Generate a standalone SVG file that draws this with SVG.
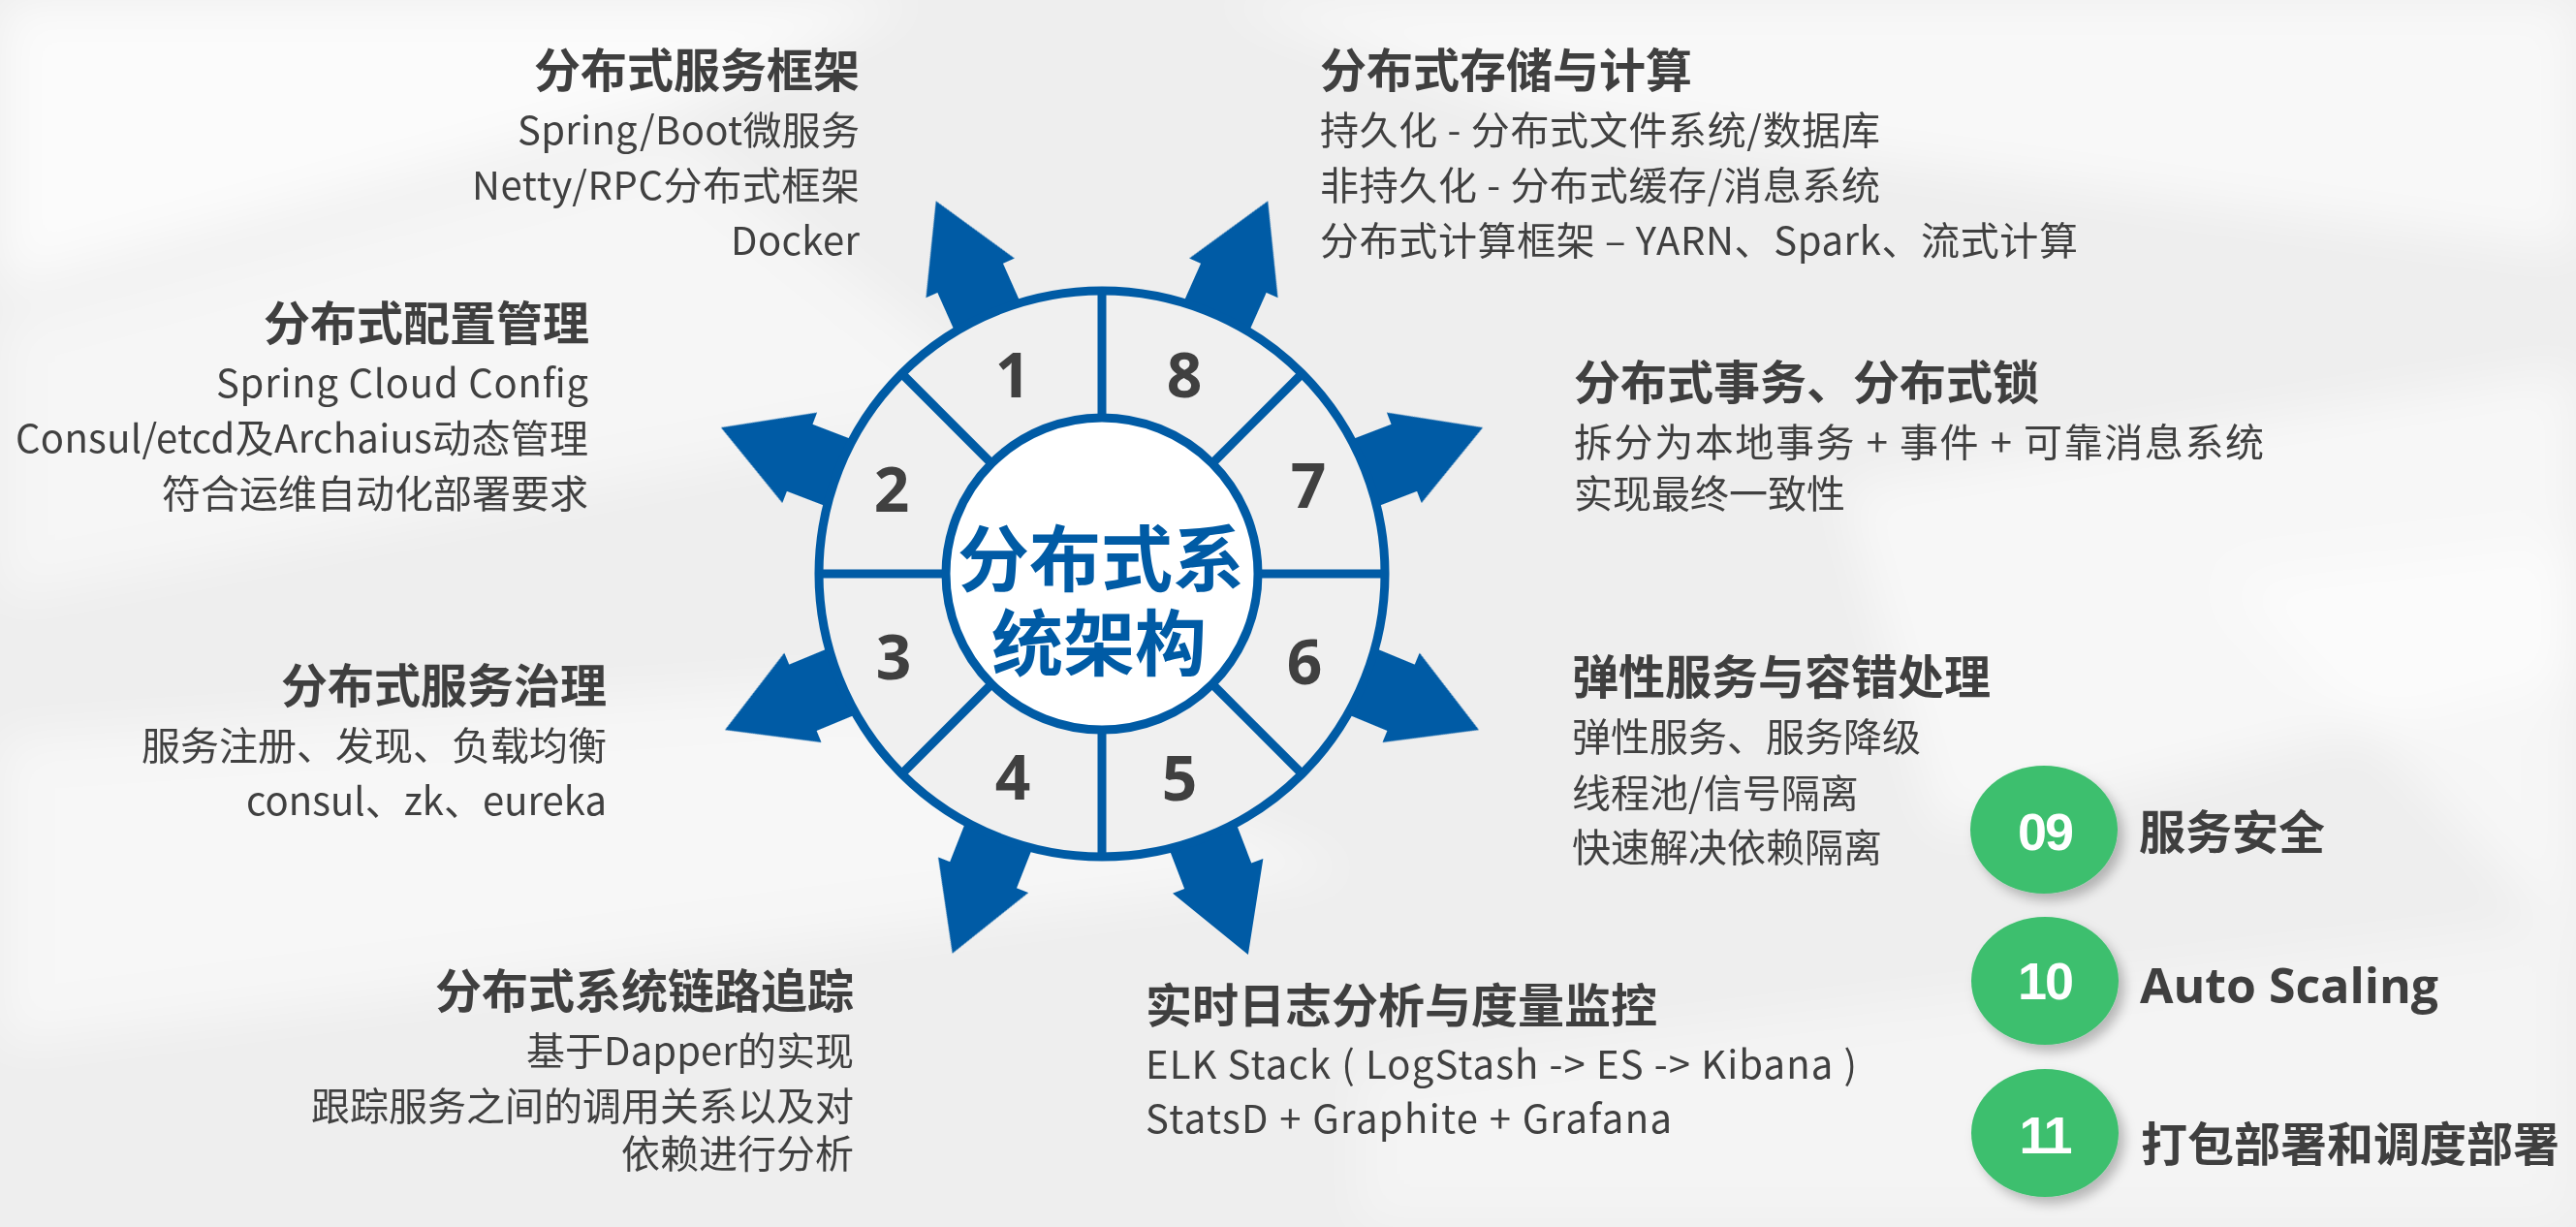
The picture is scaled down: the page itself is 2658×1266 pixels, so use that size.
<svg xmlns="http://www.w3.org/2000/svg" width="2658" height="1266" viewBox="0 0 2658 1266">
<style>
.h{font-family:"Noto Sans CJK SC","Noto Sans",sans-serif;font-size:48px;font-weight:700;fill:#3f3f3f;dominant-baseline:central}
.b{font-family:"Noto Sans CJK SC","Noto Sans",sans-serif;font-size:40px;font-weight:400;fill:#404040;dominant-baseline:central}
.r{text-anchor:end}
.num{font-family:"Open Sans","Liberation Sans",sans-serif;font-size:64px;font-weight:700;fill:#404040;text-anchor:middle}
.ctr{font-family:"Noto Sans CJK SC",sans-serif;font-size:74px;font-weight:700;fill:#005ba5;text-anchor:middle;dominant-baseline:central}
.gn{font-family:"Liberation Sans","Arial",sans-serif;font-size:54px;font-weight:700;fill:#ffffff;text-anchor:middle;letter-spacing:-2px}
.blue{fill:#005ba5}
.div{stroke:#005ba5;stroke-width:9}
.green{fill:#3dbf6e}
</style>
<defs>
<filter id="soft" x="-20%" y="-20%" width="140%" height="140%"><feGaussianBlur stdDeviation="25"/></filter>
<filter id="shadow" x="-30%" y="-30%" width="160%" height="160%"><feDropShadow dx="6" dy="7" stdDeviation="6" flood-color="#000" flood-opacity="0.25"/></filter>
<polygon id="arrow" points="-37,-250 -37,-334 -50,-334 0,-421 50,-334 37,-334 37,-250"/>
</defs>

<g id="background">
<rect width="2658" height="1266" fill="#eeeeee"/>
<g filter="url(#soft)" fill="#ffffff">
<polygon points="0,0 950,0 700,110 0,300" opacity="0.75"/>
<polygon points="0,330 700,140 1050,420 0,620" opacity="0.45"/>
<polygon points="1250,0 2658,0 2658,260 1600,120" opacity="0.6"/>
<polygon points="1900,500 2658,380 2658,700 2000,860" opacity="0.55"/>
<polygon points="0,760 900,700 1400,900 0,1080" opacity="0.5"/>
<polygon points="1400,1100 2658,950 2658,1266 1400,1266" opacity="0.35"/>
<polygon points="2300,600 2658,560 2658,980" opacity="0.5"/>
</g>
</g>

<g id="connectors">
<use href="#arrow" class="blue" transform="translate(1137,592) rotate(-24)"/>
<use href="#arrow" class="blue" transform="translate(1137,592) rotate(24)"/>
<use href="#arrow" class="blue" transform="translate(1137,592) rotate(-69)"/>
<use href="#arrow" class="blue" transform="translate(1137,592) rotate(69)"/>
<use href="#arrow" class="blue" transform="translate(1137,592) rotate(-112.5)"/>
<use href="#arrow" class="blue" transform="translate(1137,592) rotate(112.5)"/>
<use href="#arrow" class="blue" transform="translate(1137,592) rotate(-158.5)"/>
<use href="#arrow" class="blue" transform="translate(1137,592) rotate(159)"/>
</g>

<g id="wheel">
<circle cx="1137" cy="592" r="292" fill="#f0f0f0" stroke="#005ba5" stroke-width="9"/>
<g class="div">
<line x1="1137" y1="431" x2="1137" y2="300"/>
<line x1="1137" y1="753" x2="1137" y2="884"/>
<line x1="976" y1="592" x2="845" y2="592"/>
<line x1="1298" y1="592" x2="1431" y2="592"/>
<line x1="1023.2" y1="478.2" x2="930.5" y2="385.5"/>
<line x1="1250.8" y1="478.2" x2="1343.5" y2="385.5"/>
<line x1="1023.2" y1="705.8" x2="930.5" y2="798.5"/>
<line x1="1250.8" y1="705.8" x2="1343.5" y2="798.5"/>
</g>
<circle cx="1137" cy="592" r="161" fill="#ffffff" stroke="#005ba5" stroke-width="9"/>
<text class="ctr" x="1136" y="571">分布式系</text>
<text class="ctr" x="1134" y="658">统架构</text>
</g>

<g id="seg1"><text class="num" x="1045" y="410">1</text></g>
<g id="seg2"><text class="num" x="920" y="528">2</text></g>
<g id="seg3"><text class="num" x="922" y="701">3</text></g>
<g id="seg4"><text class="num" x="1045" y="825">4</text></g>
<g id="seg5"><text class="num" x="1217" y="826">5</text></g>
<g id="seg6"><text class="num" x="1346" y="706">6</text></g>
<g id="seg7"><text class="num" x="1350" y="524">7</text></g>
<g id="seg8"><text class="num" x="1222" y="410">8</text></g>

<g id="item1">
<text class="h r" x="887" y="69">分布式服务框架</text>
<text class="b r" x="887" y="132" textLength="353">Spring/Boot微服务</text>
<text class="b r" x="887" y="189" textLength="400">Netty/RPC分布式框架</text>
<text class="b r" x="887" y="246" textLength="133">Docker</text>
</g>

<g id="item2">
<text class="h r" x="608" y="330">分布式配置管理</text>
<text class="b r" x="607" y="393" textLength="384">Spring Cloud Config</text>
<text class="b r" x="607" y="450" textLength="591">Consul/etcd及Archaius动态管理</text>
<text class="b r" x="607" y="507">符合运维自动化部署要求</text>
</g>

<g id="item3">
<text class="h r" x="626" y="704">分布式服务治理</text>
<text class="b r" x="626" y="767">服务注册、发现、负载均衡</text>
<text class="b r" x="626" y="824" textLength="372">consul、zk、eureka</text>
</g>

<g id="item4">
<text class="h r" x="881" y="1019">分布式系统链路追踪</text>
<text class="b r" x="881" y="1082" textLength="338">基于Dapper的实现</text>
<text class="b r" x="881" y="1139">跟踪服务之间的调用关系以及对</text>
<text class="b r" x="881" y="1188">依赖进行分析</text>
</g>

<g id="item5">
<text class="h" x="1182" y="1034">实时日志分析与度量监控</text>
<text class="b" x="1182" y="1096" textLength="734">ELK Stack ( LogStash -&gt; ES -&gt; Kibana )</text>
<text class="b" x="1182" y="1152" textLength="543">StatsD + Graphite + Grafana</text>
</g>

<g id="item6">
<text class="h" x="1622" y="695">弹性服务与容错处理</text>
<text class="b" x="1622" y="758">弹性服务、服务降级</text>
<text class="b" x="1622" y="816">线程池/信号隔离</text>
<text class="b" x="1622" y="872">快速解决依赖隔离</text>
</g>

<g id="item7">
<text class="h" x="1624" y="391">分布式事务、分布式锁</text>
<text class="b" x="1624" y="454" textLength="712">拆分为本地事务 + 事件 + 可靠消息系统</text>
<text class="b" x="1624" y="507">实现最终一致性</text>
</g>

<g id="item8">
<text class="h" x="1362" y="69">分布式存储与计算</text>
<text class="b" x="1362" y="132" textLength="578">持久化 - 分布式文件系统/数据库</text>
<text class="b" x="1362" y="189" textLength="578">非持久化 - 分布式缓存/消息系统</text>
<text class="b" x="1362" y="246" textLength="782">分布式计算框架 – YARN、Spark、流式计算</text>
</g>

<g id="item9">
<ellipse class="green" cx="2109" cy="856" rx="76" ry="66" filter="url(#shadow)"/>
<text class="gn" x="2110" y="877">09</text>
<text class="h" x="2207" y="855">服务安全</text>
</g>

<g id="item10">
<ellipse class="green" cx="2110" cy="1012" rx="76" ry="66" filter="url(#shadow)"/>
<text class="gn" x="2110" y="1031">10</text>
<text x="2208" y="1035" style="font-family:'Open Sans','Noto Sans',sans-serif;font-size:50px;font-weight:700;fill:#3f3f3f">Auto Scaling</text>
</g>

<g id="item11">
<ellipse class="green" cx="2110" cy="1169" rx="76" ry="66" filter="url(#shadow)"/>
<text class="gn" x="2110" y="1190">11</text>
<text class="h" x="2209" y="1177">打包部署和调度部署</text>
</g>
</svg>
